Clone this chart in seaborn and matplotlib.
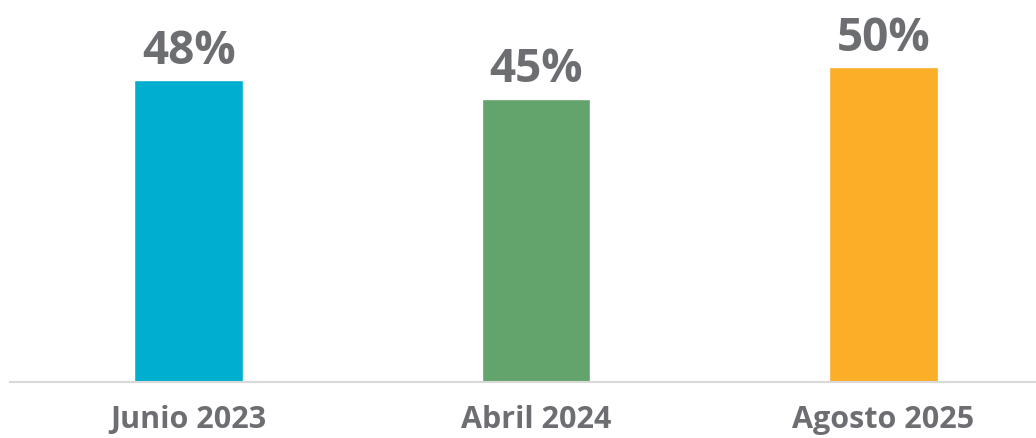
import pandas as pd
import matplotlib
matplotlib.use("Agg")
import matplotlib.pyplot as plt
import seaborn as sns

periods = ["Junio 2023", "Abril 2024", "Agosto 2025"]
values = [48, 45, 50]
colors = ["#00AFCF", "#62A46B", "#FBAE27"]

sns.set_style("white")
plt.rcParams["font.family"] = ["Open Sans", "DejaVu Sans"]

df = pd.DataFrame({"Periodo": periods, "Valor": values})

fig = plt.figure(figsize=(10.36, 4.39), dpi=100)
ax = fig.add_axes([10 / 1036, 56 / 439, 1026 / 1036, 346.5 / 439])

sns.barplot(data=df, x="Periodo", y="Valor", hue="Periodo", palette=colors,
            width=0.313, legend=False, saturation=1, ax=ax)

ax.set_ylim(0, 55)
ax.set_xlim(-0.515, 2.44)

for i, v in enumerate(values):
    ax.text(i, v + 2.7, f"{v}%", ha="center", va="baseline", fontsize=33,
            fontweight="bold", color="#6D6E71", clip_on=False)

ax.set_xlabel("")
ax.set_ylabel("")
ax.set_yticks([])
ax.tick_params(axis="x", length=0, pad=16, labelsize=22, labelcolor="#6D6E71")
for lbl in ax.get_xticklabels():
    lbl.set_fontweight("bold")

for s in ["top", "right", "left"]:
    ax.spines[s].set_visible(False)
ax.spines["bottom"].set_color("#D9D9D9")
ax.spines["bottom"].set_linewidth(1.5)

fig.savefig("out.png", dpi=100)
